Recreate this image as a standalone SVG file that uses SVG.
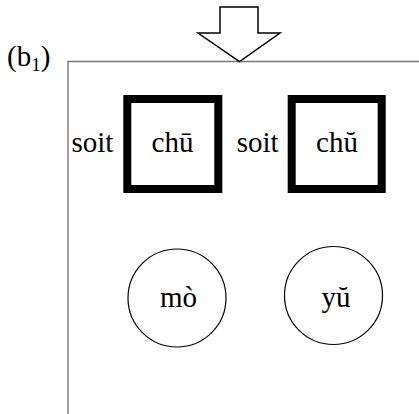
<svg xmlns="http://www.w3.org/2000/svg" width="419" height="414" viewBox="0 0 419 414">
<style>
text{font-family:"Liberation Serif","Times New Roman",serif;font-size:29px;fill:#000}
.box{fill:#fff;stroke:#000;stroke-width:8}
.circ{fill:#fff;stroke:#000;stroke-width:1.2}
.frame{fill:none;stroke:#777;stroke-width:1.4}
</style>
<rect width="419" height="414" fill="#fff"/>
<g id="frame">
<path class="frame" d="M68,414 V61.5 H419"/>
<text x="7" y="66">(b<tspan font-size="19" dy="5">1</tspan><tspan dy="-5">)</tspan></text>
</g>
<g id="arrow">
<path d="M220,7 H258 V33 H280 L239.5,61.5 L198,33 H220 Z" fill="#fff" stroke="#000" stroke-width="1.5" stroke-linejoin="miter"/>
</g>
<g id="node-chu1">
<text x="71.5" y="151.7">soit</text>
<rect class="box" x="127.3" y="99" width="91" height="90"/>
<text x="172.5" y="151.7" text-anchor="middle">chū</text>
</g>
<g id="node-chu3">
<text x="236.7" y="151.7">soit</text>
<rect class="box" x="291.7" y="99" width="90" height="90"/>
<text x="337" y="151.7" text-anchor="middle">chŭ</text>
</g>
<g id="node-mo">
<circle class="circ" cx="177" cy="298" r="49"/>
<text x="178.5" y="307" text-anchor="middle">mò</text>
</g>
<g id="node-yu">
<circle class="circ" cx="333.5" cy="295.5" r="49"/>
<text x="336" y="307" text-anchor="middle">yŭ</text>
</g>
</svg>
